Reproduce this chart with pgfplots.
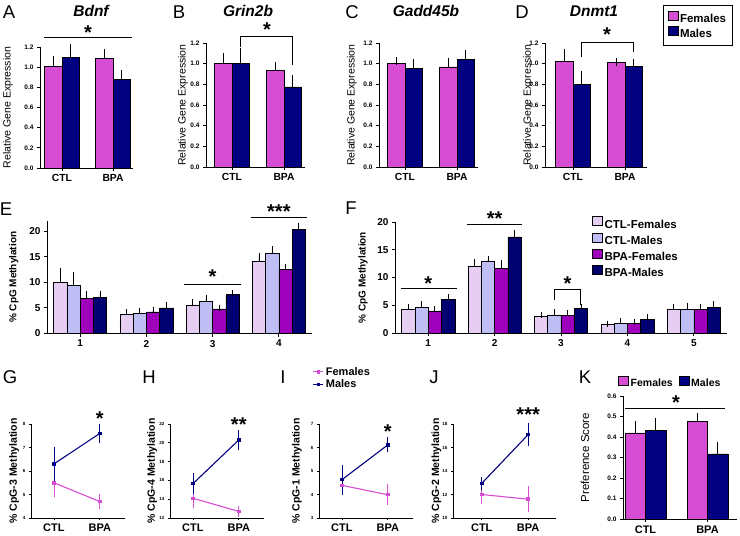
\documentclass[border=0pt]{standalone}
\usepackage{fontspec}
\setmainfont{Liberation Sans}
\usepackage{pgfplots}
\pgfplotsset{compat=1.18}
\definecolor{fem}{RGB}{214,77,212}
\definecolor{mal}{RGB}{0,0,128}
\definecolor{ctlf}{RGB}{230,206,242}
\definecolor{ctlm}{RGB}{190,190,245}
\definecolor{bpaf}{RGB}{158,0,188}
\definecolor{bpam}{RGB}{0,0,112}
\newcommand\fs[1]{\fontsize{#1}{#1}\selectfont}
\tikzset{star/.style={font=\bfseries\fs{20}, anchor=north, inner sep=0pt},
  sig/.style={line width=0.9pt, black}}
\pgfplotsset{
  base/.style={scale only axis, anchor=south west, clip=false, enlargelimits=false,
    axis x line*=bottom, axis y line*=left,
    axis line style={line width=0.9pt, black},
    tick align=outside, major tick length=3pt,
    tick style={black, line width=0.9pt},
    /pgf/number format/assume math mode=true,
    ylabel style={anchor=center}},
  barsty/.style={draw=black, line width=0.5pt},
  ebp/.style={error bars/y dir=plus, error bars/y explicit,
    error bars/error bar style={line width=0.8pt, black},
    error bars/error mark options={black, line width=0.8pt, mark size=#1}},
  ebp/.default=4pt,
  sqlegend/.style={legend image code/.code={\draw[##1, draw=black, line width=0.5pt] (0pt,-1pt) rectangle (10pt,8pt);}},
  gene/.style={base, ybar=0pt, bar width=17.5pt, ymin=0, ymax=1.2,
    ytick={0,0.2,0.4,0.6,0.8,1.0,1.2},
    yticklabel style={font=\bfseries\fs{6.5}, /pgf/number format/fixed, /pgf/number format/fixed zerofill, /pgf/number format/precision=1},
    xticklabel style={font=\bfseries\fs{10.3}},
    xticklabels={CTL,BPA},
    ylabel={Relative Gene Expression}, ylabel style={font=\fs{10.5}},
    height=124pt, width=99pt, sqlegend},
  cpg/.style={base, ybar=0pt, bar width=0.2, ymin=0,
    xticklabel style={font=\bfseries\fs{10}},
    yticklabel style={font=\bfseries\fs{10}},
    ylabel={\% CpG Methylation}, ylabel style={font=\bfseries\fs{10}}, sqlegend, legend cell align=left},
  lineax/.style={base, xmin=0.5, xmax=2.55, xtick={1,2}, xticklabels={CTL,BPA},
    major tick length=2pt, axis line style={line width=0.7pt}, tick style={line width=0.7pt},
    xticklabel style={font=\bfseries\fs{11}},
    yticklabel style={font=\bfseries\fs{4.5}},
    ylabel style={font=\bfseries\fs{10.5}},
    width=94pt, height=94pt},
  fline/.style={color=fem, line width=1.1pt, mark=square*, mark size=1.2pt,
    error bars/y dir=both, error bars/y explicit,
    error bars/error bar style={line width=0.7pt, fem},
    error bars/error mark options={fem, line width=0.7pt, mark size=2.5pt}},
  mline/.style={color=mal, line width=1.1pt, mark=square*, mark size=1.2pt,
    error bars/y dir=both, error bars/y explicit,
    error bars/error bar style={line width=0.7pt, mal},
    error bars/error mark options={mal, line width=0.7pt, mark size=2.5pt}},
}
\begin{document}
\begin{tikzpicture}
\useasboundingbox (0pt,0pt) rectangle (740pt,-536pt);
% panel letters and titles
\begin{scope}[every node/.style={font=\fs{18.5}}]
\node at (9pt,-12pt) {A};
\node at (179pt,-12pt) {B};
\node at (352pt,-12pt) {C};
\node at (522pt,-12pt) {D};
\node at (6pt,-209pt) {E};
\node at (351pt,-208pt) {F};
\node at (10pt,-377pt) {G};
\node at (149pt,-377pt) {H};
\node at (283pt,-377pt) {I};
\node at (434pt,-377pt) {J};
\node at (585pt,-377pt) {K};
\end{scope}
\begin{scope}[every node/.style={font=\bfseries\itshape\fs{15.5}}]
\node at (91pt,-11pt) {Bdnf};
\node at (248pt,-11pt) {Grin2b};
\node at (426pt,-11pt) {Gadd45b};
\node at (594pt,-11pt) {Dnmt1};
\end{scope}

% A
\begin{axis}[gene, at={(40pt,-168pt)}, width=93pt, height=121pt, xmin=40, xmax=133, xtick={62,113},
  ylabel style={at={(axis description cs:-0.344,0.5)}}]
\addplot[barsty, fill=fem, ebp] coordinates {(62,1.01) +- (0,0.065) (113,1.085) +- (0,0.055)};
\addplot[barsty, fill=mal, ebp] coordinates {(62,1.10) +- (0,0.09) (113,0.878) +- (0,0.052)};
\draw[sig] (axis cs:44,1.29) -- (axis cs:132,1.29);
\node[star] at (axis cs:88,1.408) {*};
\end{axis}

% B
\begin{axis}[gene, at={(206pt,-167pt)}, xmin=206, xmax=305, xtick={232,284},
  ylabel style={at={(axis description cs:-0.232,0.5)}}]
\addplot[barsty, fill=fem, ebp] coordinates {(232,1.0) +- (0,0.06) (284,0.935) +- (0,0.045)};
\addplot[barsty, fill=mal, ebp] coordinates {(232,1.006) +- (0,0.105) (284,0.776) +- (0,0.074)};
\draw[sig] (axis cs:240.75,1.16) -- (axis cs:240.75,1.268) -- (axis cs:292.75,1.268) -- (axis cs:292.75,0.987);
\node[star] at (axis cs:267,1.394) {*};
\end{axis}

% C
\begin{axis}[gene, at={(379pt,-167pt)}, xmin=379, xmax=478, xtick={405,457},
  ylabel style={at={(axis description cs:-0.273,0.5)}}]
\addplot[barsty, fill=fem, ebp] coordinates {(405,1.0) +- (0,0.025) (457,0.97) +- (0,0.05)};
\addplot[barsty, fill=mal, ebp] coordinates {(405,0.955) +- (0,0.055) (457,1.045) +- (0,0.045)};
\end{axis}

% D
\begin{axis}[gene, at={(545pt,-167pt)}, width=102pt, xmin=545, xmax=647, xtick={573,625},
  ylabel style={at={(axis description cs:-0.165,0.5)}},
  legend cell align=left,
  legend style={at={(axis description cs:1.157,1.306)}, anchor=north west, draw=black, line width=1pt,
    font=\bfseries\fs{11.5}, inner xsep=4pt, inner ysep=5pt, row sep=0pt}]
\addplot[barsty, fill=fem, ebp] coordinates {(573,1.02) +- (0,0.08) (625,1.01) +- (0,0.008)};
\addplot[barsty, fill=mal, ebp] coordinates {(573,0.80) +- (0,0.09) (625,0.975) +- (0,0.03)};
\legend{Females,Males}
\draw[sig] (axis cs:581.75,1.065) -- (axis cs:581.75,1.207) -- (axis cs:633.75,1.207) -- (axis cs:633.75,1.113);
\node[star] at (axis cs:607,1.346) {*};
\end{axis}

% E
\begin{axis}[cpg, at={(47pt,-333.5pt)}, width=265pt, height=112.5pt, xmin=0.5, xmax=4.5, ymax=22,
  ytick={0,5,10,15,20}, xtick={1,2,3,4},
  ylabel style={at={(axis description cs:-0.125,0.5)}}]
\addplot[barsty, fill=ctlf, ebp=3pt] coordinates {(1,10.0) +- (0,2.2) (2,3.7) +- (0,0.5) (3,5.6) +- (0,0.5) (4,14.1) +- (0,1.0)};
\addplot[barsty, fill=ctlm, ebp=3pt] coordinates {(1,9.4) +- (0,2.1) (2,4.0) +- (0,0.4) (3,6.3) +- (0,0.7) (4,15.6) +- (0,0.9)};
\addplot[barsty, fill=bpaf, ebp=3pt] coordinates {(1,6.8) +- (0,0.9) (2,4.25) +- (0,0.35) (3,4.8) +- (0,0.25) (4,12.5) +- (0,0.5)};
\addplot[barsty, fill=bpam, ebp=3pt] coordinates {(1,7.0) +- (0,0.8) (2,5.0) +- (0,0.6) (3,7.6) +- (0,0.25) (4,20.3) +- (0,0.8)};
\draw[sig] (axis cs:2.57,9.6) -- (axis cs:3.43,9.6);
\node[star] at (axis cs:3,12.45) {*};
\draw[sig] (axis cs:3.58,22.7) -- (axis cs:4.42,22.7);
\node[star] at (axis cs:4,25.2) {***};
\end{axis}

% F
\begin{axis}[cpg, at={(395pt,-333pt)}, width=332pt, height=111pt, xmin=0.5, xmax=5.5, ymax=20,
  ytick={0,5,10,15,20}, xtick={1,2,3,4,5},
  ylabel style={at={(axis description cs:-0.096,0.5)}},
  legend style={at={(axis description cs:0.584,1.07)}, anchor=north west, draw=none, fill=none,
    font=\bfseries\fs{11.5}, row sep=1pt}]
\addplot[barsty, fill=ctlf, ebp=3pt] coordinates {(1,4.3) +- (0,0.4) (2,12.1) +- (0,0.7) (3,2.95) +- (0,0.25) (4,1.5) +- (0,0.2) (5,4.3) +- (0,0.4)};
\addplot[barsty, fill=ctlm, ebp=3pt] coordinates {(1,4.6) +- (0,0.6) (2,13.0) +- (0,0.4) (3,3.25) +- (0,0.45) (4,1.8) +- (0,0.4) (5,4.3) +- (0,0.6)};
\addplot[barsty, fill=bpaf, ebp=3pt] coordinates {(1,4.0) +- (0,0.4) (2,11.7) +- (0,0.9) (3,3.2) +- (0,0.4) (4,1.7) +- (0,0.3) (5,4.3) +- (0,0.3)};
\addplot[barsty, fill=bpam, ebp=3pt] coordinates {(1,6.1) +- (0,0.3) (2,17.3) +- (0,0.8) (3,4.45) +- (0,0.25) (4,2.4) +- (0,0.5) (5,4.65) +- (0,0.5)};
\legend{CTL-Females,CTL-Males,BPA-Females,BPA-Males}
\draw[sig] (axis cs:0.59,8.05) -- (axis cs:1.43,8.05);
\node[star] at (axis cs:1,10.14) {*};
\draw[sig] (axis cs:1.58,19.6) -- (axis cs:2.42,19.6);
\node[star] at (axis cs:2,21.8) {**};
\draw[sig] (axis cs:2.9,5.9) -- (axis cs:2.9,7.9) -- (axis cs:3.3,7.9) -- (axis cs:3.3,5.0);
\node[star] at (axis cs:3.1,10.1) {*};
\end{axis}

% G
\begin{axis}[lineax, at={(31pt,-518pt)}, ymin=4, ymax=8, ytick={4,5,6,7,8},
  ylabel={\% CpG-3 Methylation}, ylabel style={at={(axis description cs:-0.18,0.5)}}]
\addplot[fline] coordinates {(1,5.5) +- (0,0.5) (2,4.7) +- (0,0.2)};
\addplot[mline] coordinates {(1,6.3) +- (0,0.6) (2,7.6) +- (0,0.3)};
\node[star] at (axis cs:2,8.51) {*};
\end{axis}

% H
\begin{axis}[lineax, at={(170pt,-518pt)}, ymin=12, ymax=22, ytick={12,14,16,18,20,22},
  ylabel={\% CpG-4 Methylation}, ylabel style={at={(axis description cs:-0.19,0.5)}}]
\addplot[fline] coordinates {(1,14.1) +- (0,0.8) (2,12.7) +- (0,0.3)};
\addplot[mline] coordinates {(1,15.65) +- (0,0.85) (2,20.3) +- (0,0.8)};
\node[star] at (axis cs:2,22.64) {**};
\end{axis}

% I
\begin{axis}[lineax, at={(319pt,-518pt)}, ymin=3, ymax=7, ytick={3,4,5,6,7},
  ylabel={\% CpG-1 Methylation}, ylabel style={at={(axis description cs:-0.235,0.5)}},
  legend cell align=left,
  legend image code/.code={\draw[mark repeat=2,mark phase=2,#1] plot coordinates {(0pt,0pt) (5pt,0pt) (10pt,0pt)};},
  legend style={at={(axis description cs:-0.1,1.65)}, anchor=north west, draw=none, fill=none,
    font=\bfseries\fs{11}, row sep=-1pt}]
\addplot[fline] coordinates {(1,4.39) +- (0,0.05) (2,3.99) +- (0,0.33)};
\addplot[mline] coordinates {(1,4.63) +- (0,0.53) (2,6.11) +- (0,0.21)};
\legend{Females,Males}
\node[star] at (axis cs:2,6.96) {*};
\end{axis}

% J
\begin{axis}[lineax, at={(453pt,-518pt)}, width=103pt, xmin=0.38, xmax=2.6, ymin=10, ymax=18, ytick={10,12,14,16,18},
  ylabel={\% CpG-2 Methylation}, ylabel style={at={(axis description cs:-0.16,0.5)}}]
\addplot[fline] coordinates {(1,12.0) +- (0,0.6) (2,11.6) +- (0,0.9)};
\addplot[mline] coordinates {(1,12.95) +- (0,0.35) (2,17.1) +- (0,0.8)};
\node[star] at (axis cs:2,19.36) {***};
\end{axis}

% K
\begin{axis}[base, ybar=0pt, bar width=20.5pt, at={(623pt,-519pt)}, width=114pt, height=123pt,
  xmin=623, xmax=737, ymin=0, ymax=0.6, ytick={0,0.1,0.2,0.3,0.4,0.5,0.6},
  xtick={645.5,707.5}, xticklabels={CTL,BPA},
  yticklabel style={font=\bfseries\fs{6.5}, /pgf/number format/fixed, /pgf/number format/fixed zerofill, /pgf/number format/precision=1},
  xticklabel style={font=\bfseries\fs{11}},
  ylabel={Preference Score}, ylabel style={font=\fs{11.5}, at={(axis description cs:-0.333,0.5)}},
  sqlegend, legend columns=2,
  legend style={at={(axis description cs:-0.07,1.106)}, anchor=west, draw=none, fill=none,
    font=\bfseries\fs{10.5}, /tikz/every even column/.append style={column sep=4pt}}]
\addplot[barsty, fill=fem, ebp=4pt] coordinates {(645.5,0.42) +- (0,0.037) (707.5,0.478) +- (0,0.02)};
\addplot[barsty, fill=mal, ebp=4pt] coordinates {(645.5,0.432) +- (0,0.04) (707.5,0.318) +- (0,0.04)};
\legend{Females,Males}
\draw[sig] (axis cs:625,0.541) -- (axis cs:725,0.541);
\node[star] at (axis cs:676,0.6) {*};
\end{axis}
\end{tikzpicture}
\end{document}
